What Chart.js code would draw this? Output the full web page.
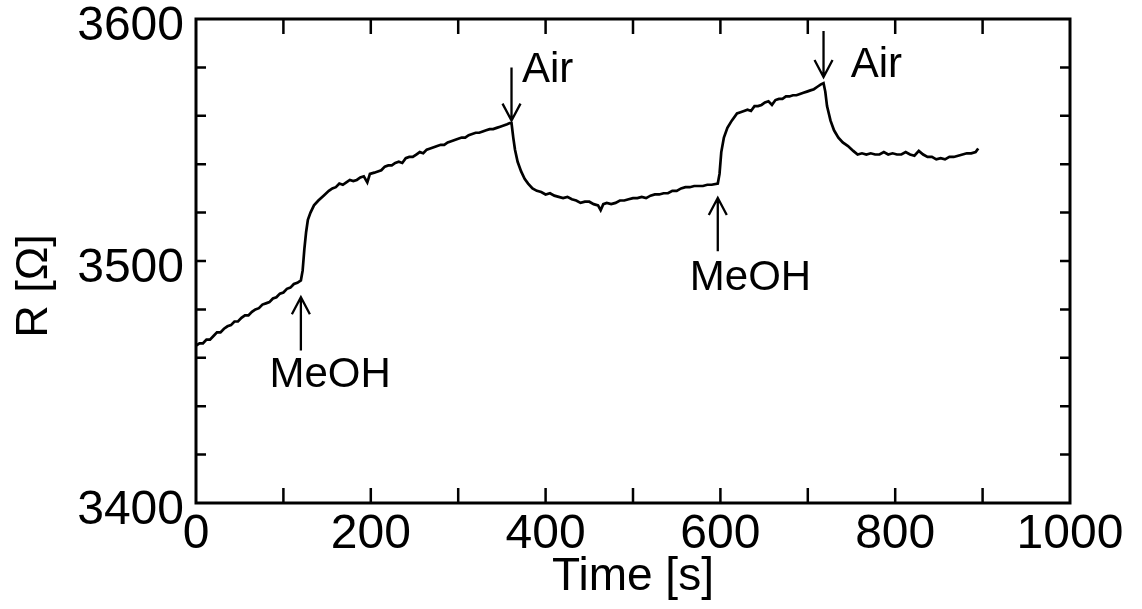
<!DOCTYPE html>
<html>
<head>
<meta charset="utf-8">
<script src="https://cdn.jsdelivr.net/npm/chart.js@4.4.1/dist/chart.umd.min.js"></script>
<style>
html,body{margin:0;padding:0;background:#fff;}
#wrap{width:1142px;height:609px;}
</style>
</head>
<body>
<div id="wrap"><canvas id="c" width="1142" height="609"></canvas></div>
<script>
// ---- data (time in s, resistance in ohm) ----
const baseTime = [0,4,8,12,16,20,24,28,32,36,40,44,48,52,56,60,64,68,72,76,80,84,88,92,96,100,104,108,112,116,120];
const baseR    = [3465,3466,3466,3467.5,3467.5,3469,3470.5,3470.5,3472,3473,3473.5,3475,3475,3476.5,3477.5,3477.5,3479,3480,3480.5,3482,3482.5,3483,3484.5,3485,3486.5,3487,3488.5,3489,3490.5,3491,3492];

const meoh1Time = [122,124,126,128,131,135,140,146,152,156,160,164,168,172,176,180,184,188,192,196,199,204,208,212,216,220,224,228,232,236,240,244,248,252,256,260,264,268,272,276,280,284,288,292,296,300,304,308,312,316,320,324,328,332,336,340,344,348,352,356,359];
const meoh1R    = [3496,3505,3512,3517,3520,3523,3525,3527,3529,3530,3530.5,3532,3531.5,3532.5,3533.5,3533,3533.5,3534.5,3535,3532.5,3536,3536.5,3537,3537.5,3539,3539.5,3539.5,3540.5,3541,3540.5,3542.5,3543,3543,3544,3545,3544.5,3546,3546.5,3547,3547.5,3548,3548,3549,3549.5,3550,3550.5,3551,3551,3552,3552.5,3553,3553,3553.5,3554,3554.5,3554.5,3555,3555.5,3556,3556.5,3557];

const air1Time = [361,363,365,368,372,376,380,385,390,395,400,405,410,415,420,425,430,435,440,445,450,455,460,463,466,470,475,480,485,490,495,500,505,510,515,520,525,530,535,540,545,550,555,560,565,570,575,580,585,590,597];
const air1R    = [3557,3551,3546,3541,3537,3534,3532,3530,3529,3528.5,3527.5,3528,3527,3526.5,3526,3526.5,3525.5,3525,3524,3524.5,3524.5,3523.5,3523,3521,3523.5,3524,3523.5,3524,3525,3525,3525.5,3526,3526,3526.5,3526,3527,3527.5,3527.5,3528,3528,3529,3529,3530,3530.5,3530.5,3531,3531,3531,3531.5,3531.5,3532];

const meoh2Time = [599,601,604,608,613,619,623,627,631,635,639,643,647,651,655,659,663,667,671,675,679,683,687,691,695,699,703,707,711,715,718];
const meoh2R    = [3536,3545,3551,3555,3558,3561,3561.5,3562,3562.5,3562,3564,3564,3564.5,3565.5,3566,3564.5,3566.5,3567,3567,3568,3568,3568.5,3568.5,3569,3569.5,3570,3570.5,3571,3572,3573,3573.5];

const air2Time = [720,722,726,730,735,740,746,752,757,762,767,772,777,782,787,792,797,802,807,812,817,822,827,832,837,842,847,852,857,862,867,872,877,882,887,892,895];
const air2R    = [3570,3564,3558,3554,3551,3549,3547.5,3545.5,3544,3544.5,3544,3544.5,3544,3544,3545,3544,3544.5,3544,3544,3545,3544,3543.5,3545.5,3544,3543,3543,3542,3542.5,3542,3543,3543,3543.5,3544,3544.5,3544.5,3545,3546.5];

const xTickLabels = [0,200,400,600,800,1000];
const yTickLabels = [3400,3500,3600];

// annotation anchors (data coordinates)
const annLabels  = ['MeOH','Air','MeOH','Air'];
const annTime    = [120,361,597,718];
const arrowTip   = [3485,3558,3526,3576];
const arrowTail  = [3463,3580,3504,3595];
const labelTime  = [84,373,565,749];
const labelValue = [3448,3574,3488,3576];

const timeS = [].concat(baseTime, meoh1Time, air1Time, meoh2Time, air2Time);
const resistance = [].concat(baseR, meoh1R, air1R, meoh2R, air2R);

const FONT = '"Liberation Sans", Arial, Helvetica, sans-serif';
const points = timeS.map((t,i)=>({x:t,y:resistance[i]}));

const framePlugin = {
  id:'frame',
  afterDraw(chart){
    const {ctx, chartArea:a, scales:{x,y}} = chart;
    ctx.save();
    ctx.strokeStyle='#000';
    ctx.lineWidth=3;
    ctx.lineCap='square';
    ctx.strokeRect(a.left,a.top,a.right-a.left,a.bottom-a.top);
    ctx.lineWidth=2.5;
    ctx.lineCap='butt';
    ctx.beginPath();
    for(let t=100;t<1000;t+=100){
      const px=x.getPixelForValue(t);
      ctx.moveTo(px,a.bottom); ctx.lineTo(px,a.bottom-15);
      ctx.moveTo(px,a.top); ctx.lineTo(px,a.top+15);
    }
    for(let v=3420;v<3600;v+=20){
      const py=y.getPixelForValue(v);
      ctx.moveTo(a.left,py); ctx.lineTo(a.left+10,py);
      ctx.moveTo(a.right,py); ctx.lineTo(a.right-10,py);
    }
    ctx.stroke();
    // annotations: arrows and labels
    ctx.lineWidth=2.3;
    ctx.fillStyle='#000';
    ctx.font='42px '+FONT;
    ctx.textAlign='left';
    ctx.textBaseline='alphabetic';
    for(let i=0;i<annLabels.length;i++){
      const ax=x.getPixelForValue(annTime[i]);
      const tipY=y.getPixelForValue(arrowTip[i]);
      const tailY=y.getPixelForValue(arrowTail[i]);
      const dir = tailY>tipY ? 1 : -1;
      ctx.beginPath();
      ctx.moveTo(ax,tailY); ctx.lineTo(ax,tipY);
      ctx.moveTo(ax-9,tipY+dir*17); ctx.lineTo(ax,tipY); ctx.lineTo(ax+9,tipY+dir*17);
      ctx.stroke();
      ctx.fillText(annLabels[i], x.getPixelForValue(labelTime[i]), y.getPixelForValue(labelValue[i]));
    }
    ctx.restore();
  }
};

new Chart(document.getElementById('c'),{
  type:'line',
  data:{datasets:[{data:points,borderColor:'#000',borderWidth:2.7,pointRadius:0,tension:0,fill:false}]},
  options:{
    responsive:false,
    animation:false,
    events:[],
    layout:{padding:{top:19,right:72,left:0,bottom:0}},
    plugins:{legend:{display:false},tooltip:{enabled:false}},
    scales:{
      x:{type:'linear',min:0,max:1000,
        grid:{display:false,drawTicks:false},border:{display:false},
        ticks:{stepSize:100,autoSkip:false,maxRotation:0,padding:3,color:'#000',
          font:{family:FONT,size:48},
          callback:v=>xTickLabels.includes(v)?String(v):''},
        title:{display:true,text:'Time [s]',color:'#000',font:{family:FONT,size:46},padding:{top:0,bottom:4}},
        afterFit:s=>{s.height=106;s.paddingLeft=0;s.paddingRight=0;}
      },
      y:{type:'linear',min:3400,max:3600,
        grid:{display:false,drawTicks:false},border:{display:false},
        ticks:{stepSize:20,autoSkip:false,padding:12,labelOffset:8,color:'#000',
          font:{family:FONT,size:48},
          callback:v=>yTickLabels.includes(v)?String(v):''},
        title:{display:true,text:'R [Ω]    ',color:'#000',font:{family:FONT,size:45},padding:{top:8,bottom:0}},
        afterFit:s=>{s.width=196;s.paddingTop=0;s.paddingBottom=0;}
      }
    }
  },
  plugins:[framePlugin]
});
</script>
</body>
</html>
